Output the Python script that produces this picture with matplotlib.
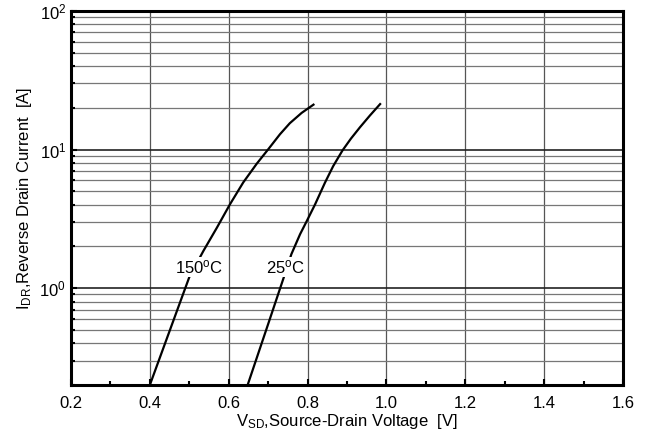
import matplotlib.pyplot as plt
from matplotlib.ticker import LogLocator, MultipleLocator, NullFormatter

plt.rcParams["font.family"] = ["Liberation Sans", "DejaVu Sans"]
plt.rcParams["mathtext.fontset"] = "custom"
plt.rcParams["mathtext.rm"] = "Liberation Sans"
plt.rcParams["mathtext.it"] = "Liberation Sans:italic"

# curves
v_150 = [0.40, 0.45, 0.50, 0.536, 0.570, 0.603, 0.637, 0.671, 0.702, 0.730, 0.755, 0.785, 0.815]
i_150 = [0.2, 0.49, 1.2, 1.86, 2.73, 4.02, 5.8, 7.9, 10.2, 12.9, 15.5, 18.4, 21.1]
v_25 = [0.648, 0.70, 0.739, 0.759, 0.781, 0.798, 0.819, 0.844, 0.865, 0.889, 0.910, 0.933, 0.958, 0.984]
i_25 = [0.2, 0.55, 1.18, 1.76, 2.45, 3.05, 4.02, 5.76, 7.6, 9.9, 12.0, 14.5, 17.6, 21.3]

x_ticks = [0.2, 0.4, 0.6, 0.8, 1.0, 1.2, 1.4, 1.6]

fig = plt.figure(figsize=(6.61, 4.41), dpi=100)
ax = fig.add_axes([0.1074, 0.127, 0.8351, 0.848])

ax.set_yscale("log")
ax.set_xlim(0.2, 1.6)
ax.set_ylim(0.2, 100)

ax.plot(v_150, i_150, color="black", lw=1.6, zorder=3)
ax.plot(v_25, i_25, color="black", lw=1.6, zorder=3)

box = dict(facecolor="white", edgecolor="none", pad=1.0)
ax.text(0.525, 1.42, "150$^{\\mathrm{o}}$C", fontsize=12, ha="center", va="center", bbox=box, zorder=4)
ax.text(0.743, 1.42, "25$^{\\mathrm{o}}$C", fontsize=12, ha="center", va="center", bbox=box, zorder=4)

ax.set_xticks(x_ticks)
ax.set_xticklabels([f"{t:.1f}" for t in x_ticks])
ax.xaxis.set_minor_locator(MultipleLocator(0.1))
ax.yaxis.set_major_locator(LogLocator(base=10))
ax.yaxis.set_minor_locator(LogLocator(base=10, subs=range(2, 10)))
ax.yaxis.set_minor_formatter(NullFormatter())

ax.grid(axis="x", which="major", color="#555555", lw=0.9)
ax.grid(axis="y", which="major", color="#222222", lw=1.2)
ax.grid(axis="y", which="minor", color="#777777", lw=0.9)
ax.set_axisbelow(True)

ax.tick_params(which="both", direction="in", labelsize=12)
ax.tick_params(which="major", length=4, width=1.5)
ax.tick_params(which="minor", length=3, width=1.5)
ax.tick_params(axis="x", pad=8)
for side in ax.spines.values():
    side.set_linewidth(2.2)

ax.set_xlabel("V$_{\\mathrm{SD}}$,Source-Drain Voltage  [V]", fontsize=12, labelpad=1)
ax.set_ylabel("I$_{\\mathrm{DR}}$,Reverse Drain Current  [A]", fontsize=12, labelpad=4)

fig.savefig("out.png", dpi=100)
